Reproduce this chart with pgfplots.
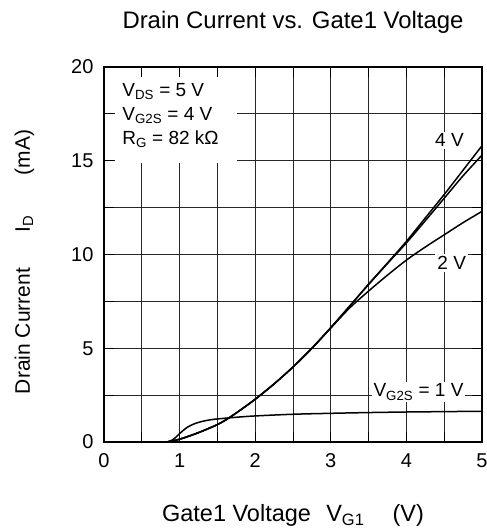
\documentclass[border=0pt]{standalone}
\usepackage{fontspec}
\setmainfont{Liberation Sans}
\usepackage{pgfplots}
\pgfplotsset{compat=1.18}
\pgfplotsset{curve/.style={black, line width=1.5pt, smooth, tension=0.5, mark=none}}
\begin{document}
\begin{tikzpicture}
\begin{axis}[
  at={(0,0)}, anchor=south west,
  scale only axis, width=378pt, height=375pt,
  xmin=0, xmax=5, ymin=0, ymax=20,
  xtick={0,1,...,5}, ytick={0,5,...,20},
  minor xtick={0.5,1.5,...,4.5}, minor ytick={2.5,7.5,...,17.5},
  xmajorgrids=true, ymajorgrids=true, xminorgrids=true, yminorgrids=true,
  major grid style={draw=black!85, line width=0.8pt},
  minor grid style={draw=black!85, line width=0.8pt},
  tick align=inside, tick pos=both,
  major tick length=10pt, minor tick length=10pt,
  tick style={draw=black, line width=0.8pt},
  axis line style={line width=2.2pt},
  /pgf/number format/assume math mode=true,
  tick label style={font=\fontsize{20}{24}\selectfont},
  xticklabel style={yshift=-8pt},
  yticklabel style={xshift=-7pt},
  title={Drain Current vs. Gate1 Voltage},
  title style={at={(axis description cs:0.5,1.088)}, anchor=base, yshift=0pt, font=\fontsize{23.9}{28}\selectfont},
  xlabel={Gate1 Voltage\hspace{0.65em}V\textsubscript{G1}\hspace{1.2em}(V)},
  xlabel style={at={(axis description cs:0.5,-0.2133)}, anchor=base, yshift=0pt, font=\fontsize{23.5}{28}\selectfont},
  ylabel={Drain Current\hspace{1.7em}I\textsubscript{D}\hspace{1.9em}(mA)},
  ylabel style={at={(axis description cs:-0.196,0.48)}, anchor=base, xshift=0pt, yshift=0pt, font=\fontsize{21}{25}\selectfont},
]
% V_G2S = 4 V
\addplot[curve] coordinates {(0,0) (0.5,0) (0.8,0) (0.9,0.05) (1.0,0.15) (1.1,0.28) (1.25,0.5) (1.4,0.75) (1.5,0.93) (1.6,1.15) (1.75,1.55) (2.0,2.28) (2.25,3.1) (2.5,4.0) (2.75,5.0) (3.0,6.1) (3.25,7.25) (3.5,8.42) (3.75,9.55) (4.0,10.7) (4.25,11.95) (4.5,13.2) (4.75,14.5) (5.0,15.8)};
% V_G2S = 3 V
\addplot[curve] coordinates {(0,0) (0.5,0) (0.8,0) (0.9,0.05) (1.0,0.15) (1.1,0.28) (1.25,0.5) (1.4,0.75) (1.5,0.93) (1.6,1.15) (1.75,1.55) (2.0,2.28) (2.25,3.1) (2.5,4.0) (2.75,5.0) (3.0,6.1) (3.25,7.25) (3.5,8.4) (3.75,9.52) (4.0,10.62) (4.25,11.8) (4.5,13.0) (4.75,14.2) (5.0,15.3)};
% V_G2S = 2 V
\addplot[curve] coordinates {(0,0) (0.5,0) (0.8,0) (0.9,0.05) (1.0,0.15) (1.1,0.28) (1.25,0.5) (1.4,0.75) (1.5,0.93) (1.6,1.15) (1.75,1.55) (2.0,2.28) (2.25,3.1) (2.5,4.0) (2.75,5.0) (3.0,6.08) (3.25,7.15) (3.5,8.05) (3.75,8.9) (4.0,9.7) (4.25,10.4) (4.5,11.05) (4.75,11.7) (5.0,12.3)};
% V_G2S = 1 V
\addplot[curve] coordinates {(0,0) (0.5,0) (0.8,0) (0.85,0.02) (0.9,0.1) (0.95,0.25) (1.0,0.45) (1.1,0.78) (1.2,0.98) (1.3,1.1) (1.4,1.18) (1.5,1.23) (1.75,1.32) (2.0,1.39) (2.5,1.48) (3.0,1.53) (3.5,1.57) (4.0,1.6) (4.5,1.62) (5.0,1.64)};
\fill[white] (axis cs:0.14,14.9) rectangle (axis cs:1.76,19.45);
\node[anchor=north west, align=left, inner sep=0pt, font=\fontsize{19}{24}\selectfont] at (axis cs:0.24,19.15)
  {V\textsubscript{DS} = 5 V\\V\textsubscript{G2S} = 4 V\\R\textsubscript{G} = 82 kΩ};
\node[fill=white, inner sep=2pt, font=\fontsize{19}{24}\selectfont] at (axis cs:4.57,16.1) {4 V};
\node[fill=white, inner sep=2pt, font=\fontsize{19}{24}\selectfont] at (axis cs:4.6,9.55) {2 V};
\node[fill=white, inner sep=2pt, font=\fontsize{19}{24}\selectfont] at (axis cs:4.16,2.67) {V\textsubscript{G2S} = 1 V};
\end{axis}
\pgfresetboundingbox
\path[use as bounding box] (-104pt,-89pt) rectangle (383pt,442pt);
\end{tikzpicture}
\end{document}
